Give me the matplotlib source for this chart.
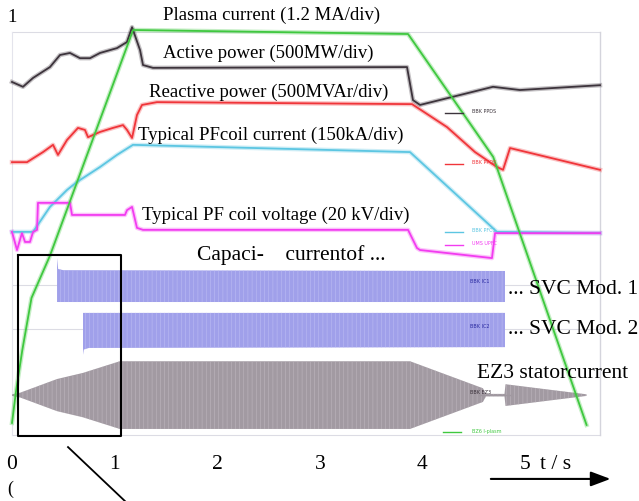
import numpy as np
import matplotlib
matplotlib.use("Agg")
import matplotlib.pyplot as plt

plt.rcParams['font.family'] = ['Liberation Serif', 'DejaVu Serif']
plt.rcParams['hatch.linewidth'] = 0.4

# time in s, levels in screen divisions (0 = bottom grid line, 10 = top grid line)
plasma_t = [0, 0.04, 0.10, 0.19, 0.37, 1.18, 3.86, 4.69, 5.60]
plasma_y = [0.30, 1.10, 2.10, 3.40, 4.45, 10.05, 9.95, 6.90, 0.25]

active_t = [0, 0.107, 0.205, 0.37, 0.468, 0.565, 0.663, 0.760, 0.858, 1.023, 1.12, 1.17,
            1.248, 1.277, 1.374, 3.85, 3.908, 3.977, 4.688, 4.951, 5.731]
active_y = [8.76, 8.64, 8.86, 9.13, 9.43, 9.48, 9.35, 9.35, 9.48, 9.60, 9.75, 10.12,
            9.55, 9.18, 9.11, 9.13, 8.31, 8.19, 8.64, 8.56, 8.68]

reactive_t = [0, 0.146, 0.302, 0.400, 0.448, 0.536, 0.643, 0.711, 0.741, 0.858, 0.984, 1.082,
              1.121, 1.170, 1.218, 1.267, 1.413, 3.899, 4.240, 4.513, 4.727, 4.786, 4.854, 5.731]
reactive_y = [6.77, 6.77, 7.02, 7.20, 6.95, 7.32, 7.62, 7.57, 7.39, 7.52, 7.62, 7.69,
              7.57, 7.37, 7.94, 8.19, 8.26, 8.21, 7.64, 7.02, 6.65, 6.58, 7.12, 6.58]

pf_cur_t = [0, 0.205, 0.370, 0.536, 0.634, 0.858, 1.023, 1.179, 3.879, 4.727, 5.731]
pf_cur_y = [5.04, 5.04, 5.66, 6.08, 6.28, 6.65, 6.95, 7.20, 7.02, 5.04, 5.01]

pf_volt_t = [0, 0.049, 0.097, 0.127, 0.175, 0.205, 0.244, 0.253, 0.565, 0.585, 1.101, 1.121,
             1.170, 1.218, 1.277, 3.860, 3.947, 3.977, 4.678, 4.708, 5.731]
pf_volt_y = [5.04, 4.59, 5.01, 4.79, 4.79, 5.04, 5.09, 5.76, 5.76, 5.46, 5.46, 5.58,
             5.66, 5.14, 5.09, 5.09, 4.64, 4.59, 4.39, 5.01, 5.01]

svc1_t = [0.439, 0.45, 0.50, 4.805]
svc1_lo = [3.30, 3.30, 3.30, 3.30]
svc1_hi = [4.39, 4.12, 4.09, 4.07]

svc2_t = [0.692, 0.70, 0.75, 4.805]
svc2_lo = [1.99, 2.12, 2.16, 2.18]
svc2_hi = [3.03, 3.03, 3.03, 3.03]

ez3_center = 0.99
ez3_t = [0, 0.08, 0.44, 0.69, 1.05, 3.88, 4.59, 4.62, 4.80, 4.81, 5.60]
ez3_half = [0.02, 0.06, 0.40, 0.55, 0.84, 0.84, 0.17, 0.03, 0.03, 0.27, 0.02]

tick_pos = [0, 1, 2, 3, 4, 5]
tick_labels = ['0', '1', '2', '3', '4', '5']

fig = plt.figure(figsize=(6.39, 5.01), dpi=100)
ax = fig.add_axes([0, 0, 1, 1])
ax.set_xlim(-12 / 102.6, 627 / 102.6)
ax.set_ylim(-66 / 40.3, 435 / 40.3)
ax.axis('off')

# faint frame of the recorder plot
for gy in [0, 2.63, 3.72, 10]:
    ax.plot([0, 5.73], [gy, gy], color='#dcdce4', lw=0.8, zorder=0)
ax.plot([5.73, 5.73], [0, 10], color='#d4d4dc', lw=1.0, zorder=0)
ax.plot([0, 0], [0, 10], color='#e4e4ec', lw=0.8, zorder=0)

# current envelopes
ax.fill_between(svc1_t, svc1_lo, svc1_hi, facecolor='#a0a0ea', edgecolor='#bcbcf3',
                hatch='||||', linewidth=0, zorder=1)
ax.fill_between(svc2_t, svc2_lo, svc2_hi, facecolor='#a0a0ea', edgecolor='#bcbcf3',
                hatch='||||', linewidth=0, zorder=1)
ez3_half = np.array(ez3_half)
ax.fill_between(ez3_t, ez3_center - ez3_half, ez3_center + ez3_half, facecolor='#a29aa2',
                edgecolor='#beb6be', hatch='||||', linewidth=0, zorder=1)
ax.plot([4.55, 4.85], [ez3_center, ez3_center], color='#9f979f', lw=1, zorder=1)


def trace(t, y, color):
    ax.plot(t, y, color=color, lw=3.2, alpha=0.3, solid_joinstyle='round', zorder=2)
    ax.plot(t, y, color=color, lw=1.3, solid_joinstyle='round', zorder=3)


trace(pf_cur_t, pf_cur_y, '#5cc6e2')
trace(pf_volt_t, pf_volt_y, '#f23cf0')
trace(reactive_t, reactive_y, '#f0353a')
trace(active_t, active_y, '#3d343c')
trace(plasma_t, plasma_y, '#3fc83f')

# small recorder legends
small = [(7.99, '#3d343c', 'BBK PPDS'), (6.73, '#f0353a', 'BBK PPQS'),
         (5.04, '#5cc6e2', 'BBK PFC1'), (4.72, '#f23cf0', 'UMS UPFC')]
for ly, lc, lt in small:
    ax.plot([4.22, 4.40], [ly, ly], color=lc, lw=1.0, zorder=4)
    ax.text(4.48, ly + 0.04, lt, color=lc, fontsize=3.5, va='center', family='DejaVu Sans')
ax.plot([4.20, 4.38], [0.07, 0.07], color='#3fc83f', lw=1.0, zorder=4)
ax.text(4.48, 0.09, 'BZ6 I-plasm', color='#3fc83f', fontsize=3.5, va='center', family='DejaVu Sans')
ax.text(4.46, 3.82, 'BBK IC1', color='#2a2aa0', fontsize=3.5, va='center', family='DejaVu Sans')
ax.text(4.46, 2.70, 'BBK IC2', color='#2a2aa0', fontsize=3.5, va='center', family='DejaVu Sans')
ax.text(4.46, 1.06, 'BBK EZ3', color='#3a303a', fontsize=3.5, va='center', family='DejaVu Sans')

# trace labels
labels = [
    (1.47, 10.42, 'Plasma current (1.2 MA/div)'),
    (1.47, 9.48, 'Active power (500MW/div)'),
    (1.34, 8.51, 'Reactive power (500MVAr/div)'),
    (1.23, 7.44, 'Typical PFcoil current (150kA/div)'),
    (1.27, 5.46, 'Typical PF coil voltage (20 kV/div)'),
]
for lx, ly, lt in labels:
    ax.text(lx, ly, lt, fontsize=13.5, va='center', ha='left', color='black', zorder=5)
ax.text(1.80, 4.47, 'Capaci-    currentof ...', fontsize=15.5, va='center', zorder=5)
ax.text(4.83, 3.60, '... SVC Mod. 1', fontsize=15.5, va='center', zorder=5)
ax.text(4.83, 2.61, '... SVC Mod. 2', fontsize=15.5, va='center', zorder=5)
ax.text(4.53, 1.53, 'EZ3 statorcurrent', fontsize=15.5, va='center', zorder=5)
ax.text(0, 10.35, '1', fontsize=13.5, va='center', ha='center')

# time axis
for tp, tl in zip(tick_pos, tick_labels):
    ax.text(tp, -0.74, tl, fontsize=15.5, ha='center', va='center')
ax.text(5.15, -0.74, 't / s', fontsize=15.5, ha='left', va='center')
ax.text(-0.02, -1.35, '(', fontsize=13, ha='center', va='center')
ax.annotate('', xy=(5.86, -1.09), xytext=(4.64, -1.09),
            arrowprops=dict(arrowstyle='-|>,head_length=1.2,head_width=0.45', color='black', lw=1.5))

# zoom box
ax.plot([0.058, 1.062, 1.062, 0.058, 0.058], [4.47, 4.47, -0.02, -0.02, 4.47], color='black', lw=1.5, zorder=6)
ax.plot([0.546, 1.101], [-0.30, -1.64], color='black', lw=1.3)

fig.savefig('out.png', dpi=100)
